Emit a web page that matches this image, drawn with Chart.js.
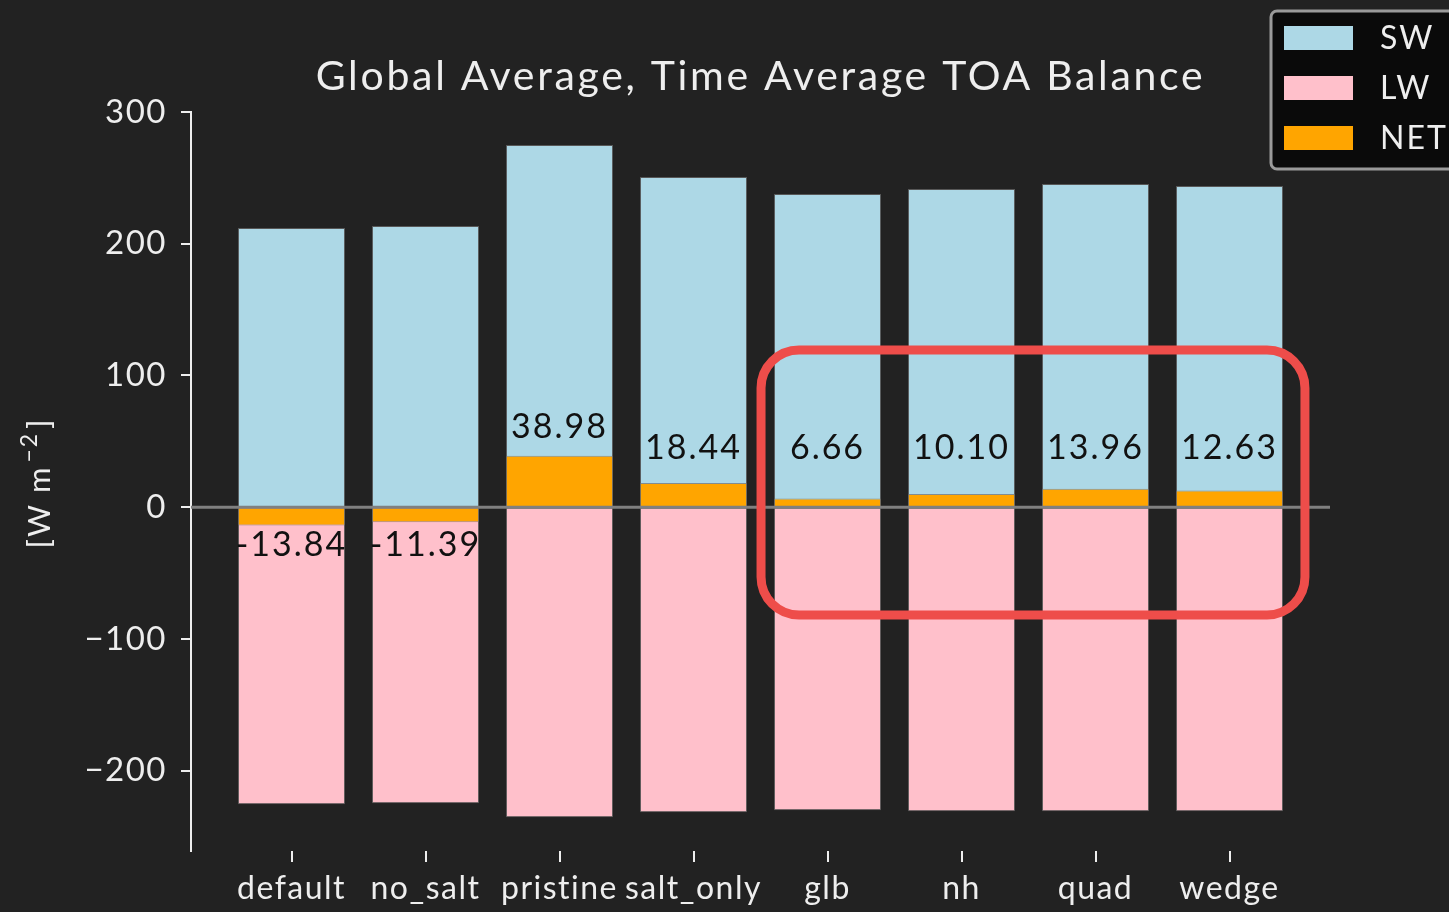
<!DOCTYPE html>
<html>
<head>
<meta charset="utf-8">
<script src="https://cdn.jsdelivr.net/npm/chart.js@4.4.1/dist/chart.umd.min.js"></script>
<style>
  html, body { margin: 0; padding: 0; background: #222222; }
  canvas { display: block; }
</style>
</head>
<body>
<canvas id="toaChart" width="1449" height="912"></canvas>
<script>
// experiment names along the x axis
const categories = ['default', 'no_salt', 'pristine', 'salt_only', 'glb', 'nh', 'quad', 'wedge'];
// global, time averaged TOA fluxes [W m-2]
const swValues = [211.9, 213.4, 275.0, 250.6, 237.7, 241.5, 245.3, 243.8];
const lwValues = [-225.6, -224.8, -235.4, -231.6, -230.1, -230.9, -230.9, -230.9];
const netValues = [-13.84, -11.39, 38.98, 18.44, 6.66, 10.10, 13.96, 12.63];
const yTicks = [-200, -100, 0, 100, 200, 300];

const FONT = 'Lato, "Noto Sans", sans-serif';
const TEXT = '#eeeeee';

function toPoints(values) {
    return values.map((v, i) => ({ x: i, y: v }));
}

// title, axis label, zero line, value labels, highlight box and legend
const extras = {
    id: 'extras',
    beforeDraw(chart) {
        chart.ctx.letterSpacing = '1.5px';
    },
    afterDatasetsDraw(chart) {
        const ctx = chart.ctx;
        const area = chart.chartArea;
        const xs = chart.scales.x;
        const ys = chart.scales.y;
        const zeroY = ys.getPixelForValue(0);
        ctx.save();

        // zero line
        ctx.strokeStyle = '#808080';
        ctx.lineWidth = 3;
        ctx.beginPath();
        ctx.moveTo(area.left, zeroY);
        ctx.lineTo(area.right, zeroY);
        ctx.stroke();

        // NET labels (small positive values share one row)
        ctx.fillStyle = '#111111';
        ctx.font = '34px ' + FONT;
        ctx.letterSpacing = '2px';
        ctx.textAlign = 'center';
        ctx.textBaseline = 'middle';
        netValues.forEach((v, i) => {
            const x = xs.getPixelForValue(i);
            const y = ys.getPixelForValue(v);
            if (v >= 0) {
                ctx.fillText(v.toFixed(2), x, Math.min(y - 29, zeroY - 59));
            } else {
                ctx.fillText(v.toFixed(2), x, Math.max(y + 20, zeroY + 38));
            }
        });

        // highlight box around the regional experiments
        const bx0 = xs.getPixelForValue(3.504);
        const bx1 = xs.getPixelForValue(7.563);
        const by0 = ys.getPixelForValue(119.3);
        const by1 = ys.getPixelForValue(-81.8);
        ctx.strokeStyle = '#ee4d4a';
        ctx.lineWidth = 9;
        ctx.beginPath();
        ctx.roundRect(bx0, by0, bx1 - bx0, by1 - by0, 38);
        ctx.stroke();

        // title
        ctx.fillStyle = TEXT;
        ctx.font = '41px ' + FONT;
        ctx.letterSpacing = '2.7px';
        ctx.textBaseline = 'middle';
        ctx.fillText('Global Average, Time Average TOA Balance', (area.left + area.right) / 2, 77);

        // y axis label with raised exponent
        ctx.save();
        ctx.translate(40, 483);
        ctx.rotate(-Math.PI / 2);
        ctx.letterSpacing = '2px';
        ctx.textAlign = 'left';
        const p1 = '[W m';
        const p2 = '\u22122';
        const p3 = ']';
        ctx.font = '23px ' + FONT;
        const w2 = ctx.measureText(p2).width;
        ctx.font = '31px ' + FONT;
        const w1 = ctx.measureText(p1).width;
        const w3 = ctx.measureText(p3).width;
        let px = -(w1 + w2 + w3 + 6) / 2;
        ctx.fillText(p1, px, 0);
        px += w1 + 3;
        ctx.font = '23px ' + FONT;
        ctx.fillText(p2, px, -10);
        px += w2 + 3;
        ctx.font = '31px ' + FONT;
        ctx.fillText(p3, px, 0);
        ctx.restore();

        // legend
        ctx.fillStyle = '#0a0a0a';
        ctx.strokeStyle = '#999999';
        ctx.lineWidth = 3;
        ctx.beginPath();
        ctx.roundRect(1271, 11, 200, 158, 6);
        ctx.fill();
        ctx.stroke();
        ctx.font = '32px ' + FONT;
        ctx.letterSpacing = '2px';
        ctx.textAlign = 'left';
        chart.data.datasets.forEach((ds, i) => {
            const cy = 38 + i * 50;
            ctx.fillStyle = ds.backgroundColor;
            ctx.fillRect(1284, cy - 12, 69, 24);
            ctx.fillStyle = TEXT;
            ctx.fillText(ds.label, 1380, cy + 1);
        });

        ctx.restore();
    }
};

const ctx = document.getElementById('toaChart').getContext('2d');
const toaChart = new Chart(ctx, {
    type: 'bar',
    data: {
        datasets: [{
            label: 'SW',
            data: toPoints(swValues),
            backgroundColor: '#add8e6',
            order: 3
        }, {
            label: 'LW',
            data: toPoints(lwValues),
            backgroundColor: '#ffc0cb',
            order: 2
        }, {
            label: 'NET',
            data: toPoints(netValues),
            backgroundColor: '#ffa500',
            order: 1
        }]
    },
    options: {
        responsive: false,
        animation: false,
        layout: { padding: { top: 112, right: 119, left: 0, bottom: 0 } },
        datasets: {
            bar: {
                grouped: false,
                barPercentage: 1,
                categoryPercentage: 0.8,
                borderWidth: 1,
                borderColor: 'rgba(110,110,110,0.7)'
            }
        },
        plugins: {
            legend: { display: false },
            tooltip: { enabled: false }
        },
        scales: {
            x: {
                type: 'linear',
                min: -0.75,
                max: 7.75,
                offset: false,
                afterBuildTicks: scale => {
                    scale.ticks = categories.map((c, i) => ({ value: i }));
                },
                afterFit: scale => { scale.height = 61; },
                border: { display: false },
                grid: {
                    offset: false,
                    drawOnChartArea: false,
                    drawTicks: true,
                    tickLength: 11,
                    lineWidth: 2,
                    color: TEXT
                },
                ticks: {
                    color: TEXT,
                    font: { family: FONT, size: 32 },
                    padding: 7,
                    maxRotation: 0,
                    autoSkip: false,
                    callback: v => categories[v]
                }
            },
            y: {
                min: -261,
                max: 300,
                afterBuildTicks: scale => {
                    scale.ticks = yTicks.map(v => ({ value: v }));
                },
                afterFit: scale => { scale.width = 191; },
                border: { display: true, color: TEXT, width: 2 },
                grid: {
                    drawOnChartArea: false,
                    drawTicks: true,
                    tickLength: 10,
                    lineWidth: 2,
                    color: TEXT
                },
                ticks: {
                    color: TEXT,
                    font: { family: FONT, size: 33 },
                    padding: 14,
                    callback: v => v < 0 ? '\u2212' + Math.abs(v) : String(v)
                }
            }
        }
    },
    plugins: [extras]
});
</script>
</body>
</html>
